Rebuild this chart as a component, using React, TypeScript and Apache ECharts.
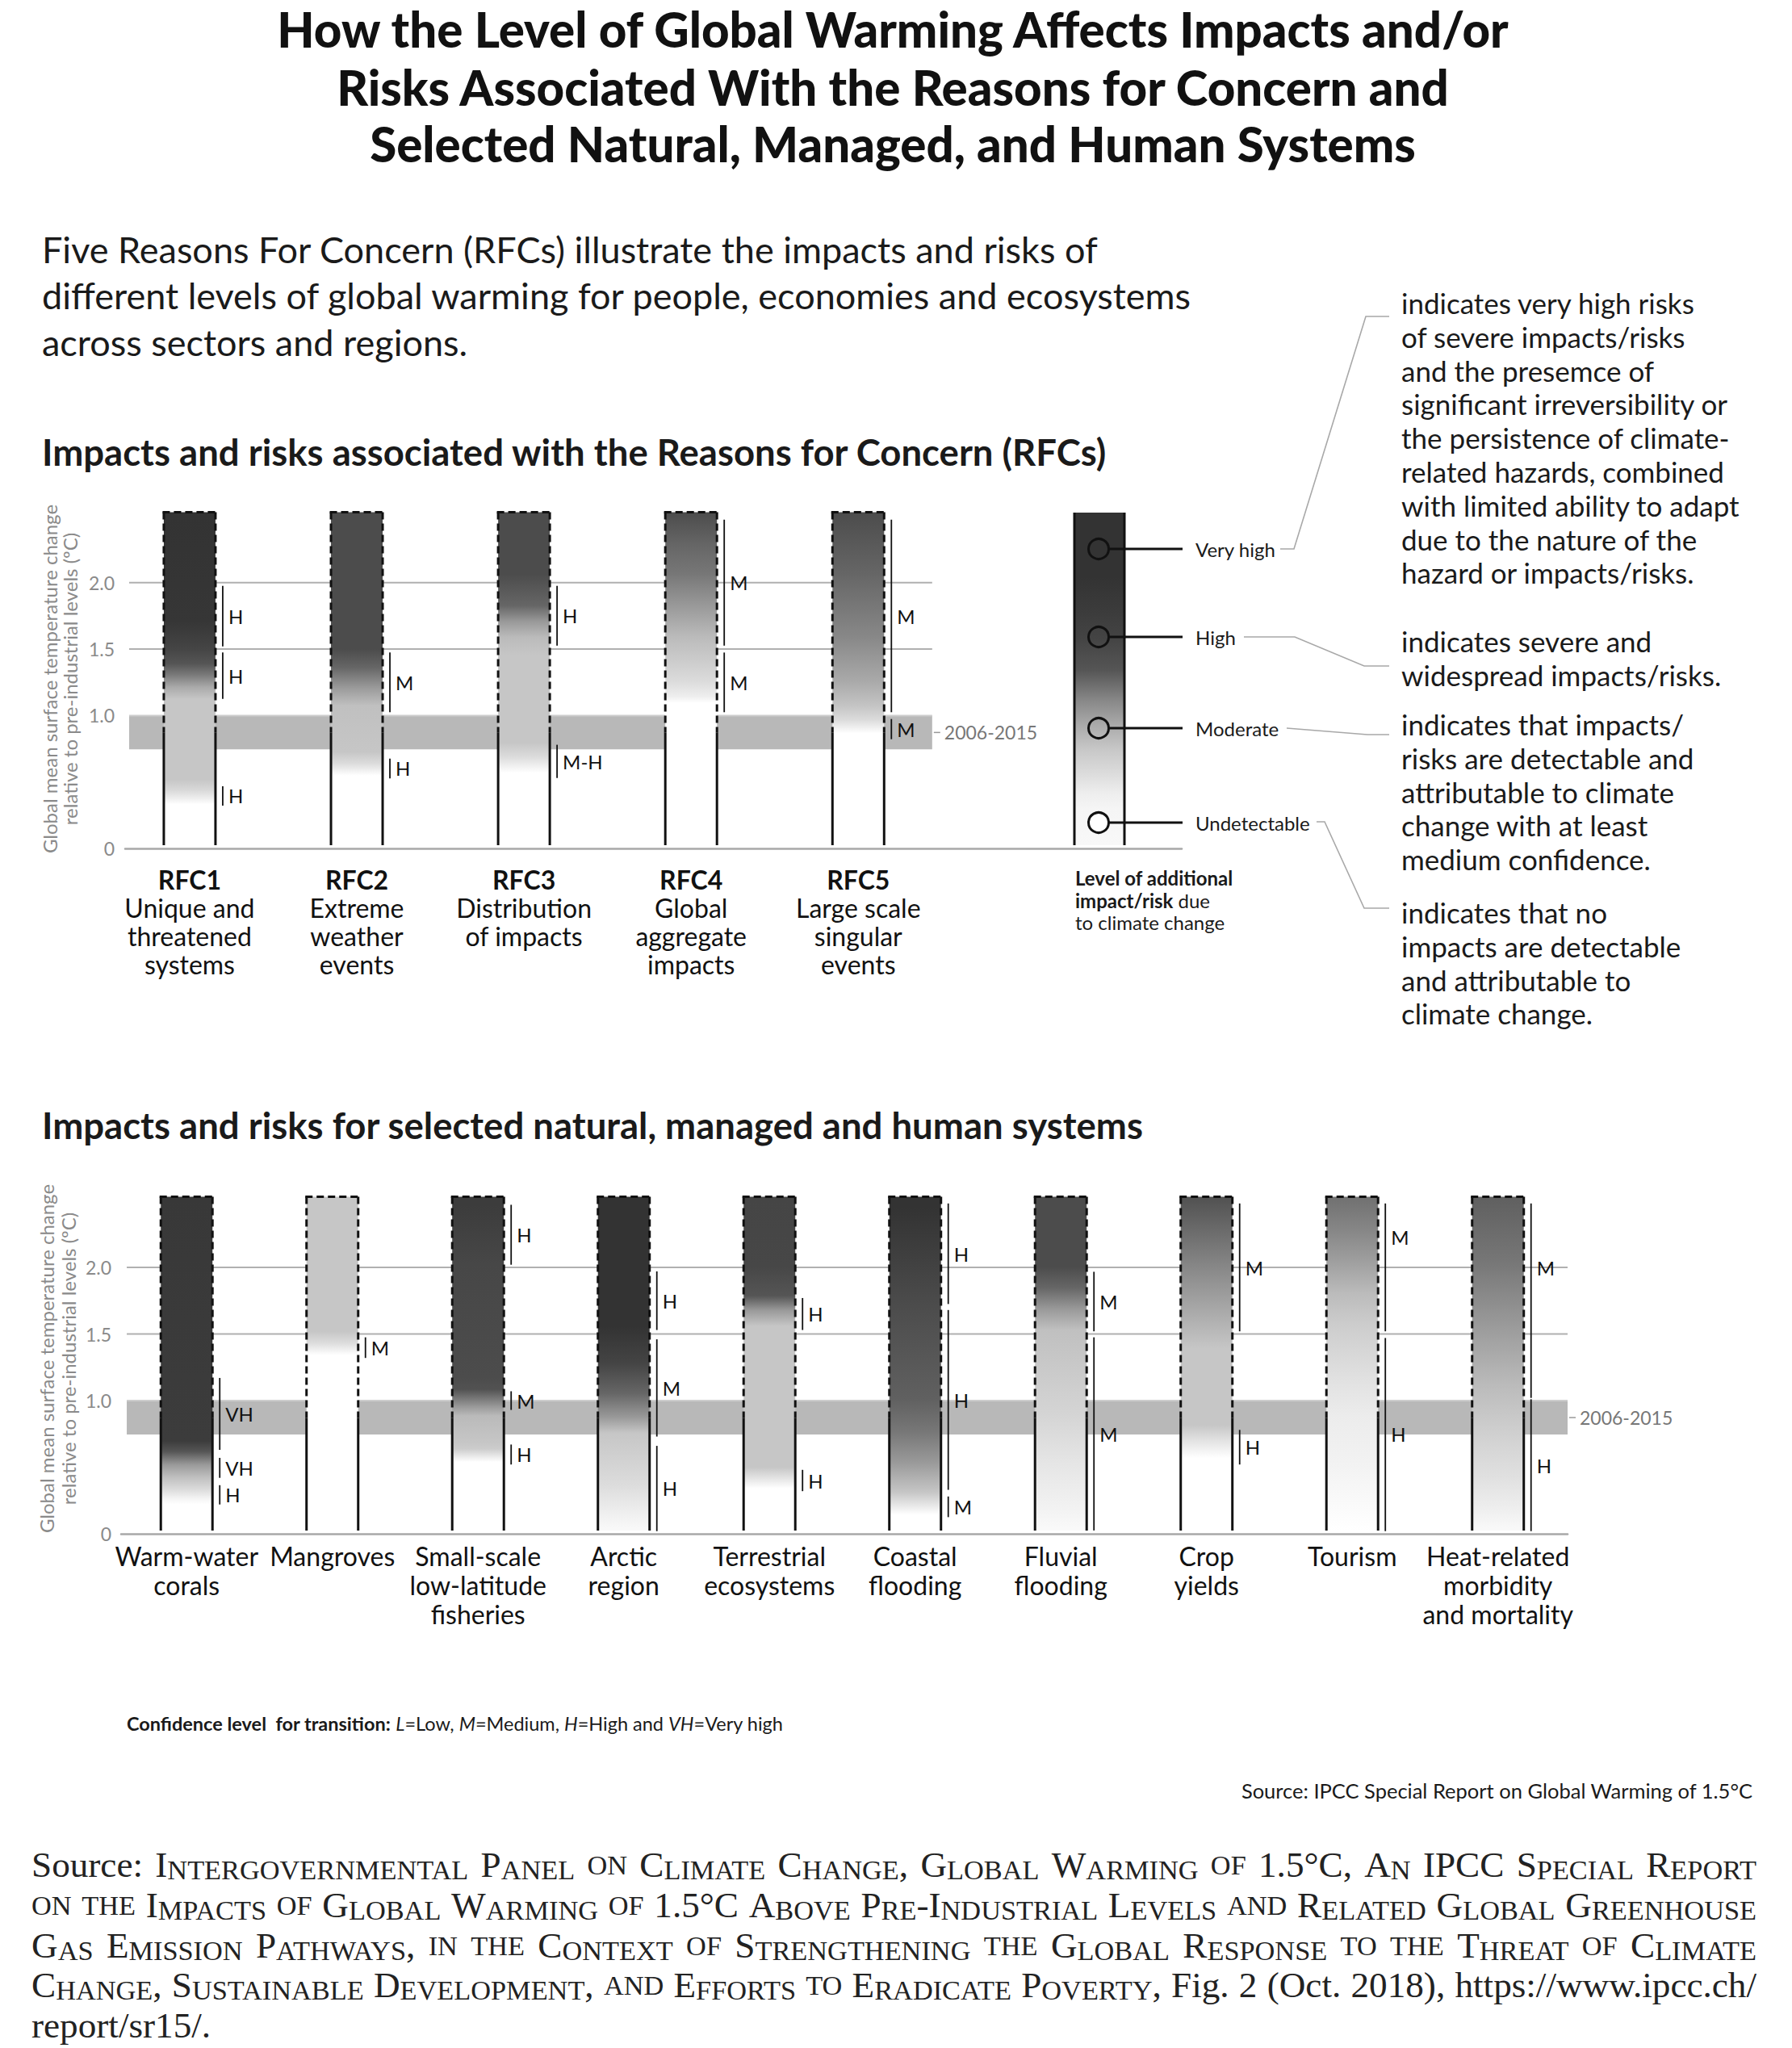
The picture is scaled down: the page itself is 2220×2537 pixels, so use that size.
import React, { useEffect, useRef } from "react";
import * as echarts from "echarts";

const PAGE_W = 2220;
const PAGE_H = 2537;
const SANS = "Lato, 'Noto Sans', sans-serif";
const SERIF = "'Liberation Serif', 'DejaVu Serif', serif";

// ---------------- data ----------------
const titleLines = [
  "How the Level of Global Warming Affects Impacts and/or",
  "Risks Associated With the Reasons for Concern and",
  "Selected Natural, Managed, and Human Systems",
];
const introLines = [
  "Five Reasons For Concern (RFCs) illustrate the impacts and risks of",
  "different levels of global warming for people, economies and ecosystems",
  "across sectors and regions.",
];
const rfcHeading = "Impacts and risks associated with the Reasons for Concern (RFCs)";
const sysHeading = "Impacts and risks for selected natural, managed and human systems";
const yAxisTitle = ["Global mean surface temperature change", "relative to pre-industrial levels (ºC)"];
const yTickValues = [0, 1.0, 1.5, 2.0];
const gridLineValues = [1.0, 1.5, 2.0];
const observedBand = [0.745, 1.0];
const bandLabel = "2006-2015";
const BAR_TOP = 2.53;
const OBSERVED_TOP = 0.87;

// level: 0 = Undetectable, 1 = Moderate, 2 = High, 3 = Very high
const levelGray = [255, 198, 76, 51];

const rfcCodes = ["RFC1", "RFC2", "RFC3", "RFC4", "RFC5"];
const rfcNames = [
  ["Unique and", "threatened", "systems"],
  ["Extreme", "weather", "events"],
  ["Distribution", "of impacts"],
  ["Global", "aggregate", "impacts"],
  ["Large scale", "singular", "events"],
];
// [temperature °C, risk level]
const rfcRisk = [
  [[0.31, 0], [0.35, 0.26], [0.42, 0.68], [0.5, 1], [1.11, 1], [1.2, 1.23], [1.3, 1.65], [1.38, 1.93], [1.49, 2.3], [1.7, 2.9], [2.53, 3]],
  [[0.53, 0], [0.62, 0.61], [0.71, 1], [1.06, 1.05], [1.2, 1.37], [1.35, 1.79], [1.49, 2], [2.53, 2.02]],
  [[0.55, 0], [0.67, 0.61], [0.78, 1], [1.44, 1], [1.58, 1.09], [1.7, 1.37], [1.82, 1.79], [2.06, 2.02], [2.53, 2.02]],
  [[1.08, 0], [1.13, 0.3], [1.24, 0.61], [1.4, 0.89], [1.58, 1.09], [1.82, 1.37], [2.06, 1.65], [2.28, 1.79], [2.53, 2]],
  [[0.85, 0], [0.95, 0.61], [1.06, 1.02], [1.24, 1.23], [1.58, 1.51], [2.06, 1.79], [2.53, 2.02]],
];
// [from °C, to °C, confidence, label position °C (optional)]
const rfcConfidence: any[] = [
  [[1.52, 1.976, "H"], [1.125, 1.474, "H"], [0.322, 0.468, "H"]],
  [[1.025, 1.474, "M"], [0.527, 0.676, "H"]],
  [[1.526, 1.976, "H"], [0.53, 0.78, "M-H"]],
  [[1.526, 2.474, "M"], [1.025, 1.474, "M"]],
  [[1.025, 2.474, "M"], [0.822, 0.974, "M"]],
];

const sysNames = [
  ["Warm-water", "corals"],
  ["Mangroves"],
  ["Small-scale", "low-latitude", "fisheries"],
  ["Arctic", "region"],
  ["Terrestrial", "ecosystems"],
  ["Coastal", "flooding"],
  ["Fluvial", "flooding"],
  ["Crop", "yields"],
  ["Tourism"],
  ["Heat-related", "morbidity", "and mortality"],
];
const sysRisk = [
  [[0.2, 0], [0.24, 0.18], [0.31, 0.61], [0.41, 1.07], [0.5, 1.37], [0.6, 1.93], [0.68, 2.66], [2.52, 2.8]],
  [[1.33, 0], [1.42, 0.6], [1.51, 1], [2.52, 1]],
  [[0.52, 0], [0.62, 0.9], [0.67, 1], [0.87, 1.1], [0.94, 1.37], [1.07, 1.95], [1.16, 2], [2.02, 2.2], [2.47, 2.64]],
  [[0.02, 0.12], [0.12, 0.26], [0.35, 0.61], [0.74, 1], [0.86, 1.37], [1.04, 1.79], [1.27, 2.32], [1.55, 3], [2.52, 3]],
  [[0.32, 0], [0.48, 1], [1.55, 1], [1.67, 1.37], [1.78, 1.93], [2.0, 2.2], [2.52, 2.3]],
  [[0.12, 0], [0.29, 1], [0.52, 1.37], [0.75, 1.65], [1.0, 1.84], [1.7, 2], [2.45, 3]],
  [[0.02, 0.1], [0.17, 0.23], [0.52, 0.46], [0.87, 0.74], [1.33, 1], [1.52, 1.05], [1.68, 1.37], [1.84, 1.79], [2.0, 2], [2.52, 2.02]],
  [[0.55, 0], [0.68, 0.5], [0.8, 1], [1.38, 1], [2.52, 1.95]],
  [[0, 0], [0.52, 0.23], [0.87, 0.33], [1.1, 0.49], [1.33, 0.68], [1.57, 0.9], [1.8, 1.09], [2.03, 1.31], [2.26, 1.51], [2.52, 1.7]],
  [[0.02, 0.12], [0.17, 0.3], [0.41, 0.54], [0.64, 0.74], [0.87, 0.97], [1.1, 1.09], [1.57, 1.37], [2.03, 1.65], [2.52, 1.84]],
];
const sysConfidence: any[] = [
  [[0.63, 1.17, "VH"], [0.42, 0.57, "VH"], [0.22, 0.365, "H"]],
  [[1.32, 1.475, "M"]],
  [[2.02, 2.47, "H"], [0.93, 1.07, "M"], [0.52, 0.67, "H"]],
  [[1.53, 1.97, "H"], [0.73, 1.46, "M"], [0.02, 0.66, "H"]],
  [[1.53, 1.77, "H"], [0.32, 0.48, "H"]],
  [[1.725, 2.48, "H"], [0.33, 1.68, "H"], [0.125, 0.28, "M"]],
  [[1.52, 1.967, "M"], [0.025, 1.475, "M"]],
  [[1.52, 2.48, "M"], [0.52, 0.78, "H"]],
  [[1.52, 2.48, "M", 2.23], [0.02, 1.47, "H", 0.75]],
  [[1.02, 2.48, "M", 2.0], [0.02, 1.01, "H"]],
];

const legendLevels = ["Very high", "High", "Moderate", "Undetectable"];
const legendDescriptions = [
  [
    "indicates very high risks",
    "of severe impacts/risks",
    "and the presemce of",
    "significant irreversibility or",
    "the persistence of climate-",
    "related hazards, combined",
    "with limited ability to adapt",
    "due to the nature of the",
    "hazard or impacts/risks.",
  ],
  ["indicates severe and", "widespread impacts/risks."],
  [
    "indicates that impacts/",
    "risks are detectable and",
    "attributable to climate",
    "change with at least",
    "medium confidence.",
  ],
  ["indicates that no", "impacts are detectable", "and attributable to", "climate change."],
];
const legendCaption = ["Level of additional", "impact/risk", " due", "to climate change"];
const footnoteParts: [string, string][] = [
  ["Confidence level  for transition:", "b"],
  [" ", "n"],
  ["L", "i"],
  ["=Low, ", "n"],
  ["M", "i"],
  ["=Medium, ", "n"],
  ["H", "i"],
  ["=High and ", "n"],
  ["VH", "i"],
  ["=Very high", "n"],
];
const sourceNote = "Source: IPCC Special Report on Global Warming of 1.5°C";
// [text, small caps?]
const sourceLines: [string, boolean][][] = [
  [["Source: ", false], ["Intergovernmental Panel on Climate Change, Global Warming of 1.5°C, An IPCC Special Report", true]],
  [["on the Impacts of Global Warming of 1.5°C Above Pre-Industrial Levels and Related Global Greenhouse", true]],
  [["Gas Emission Pathways, in the Context of Strengthening the Global Response to the Threat of Climate", true]],
  [["Change, Sustainable Development, and Efforts to Eradicate Poverty", true], [", Fig. 2 (Oct. 2018), https://www.ipcc.ch/", false]],
  [["report/sr15/.", false]],
];

// ---------------- helpers ----------------
function levelToGray(l: number) {
  const lo = Math.max(0, Math.min(2, Math.floor(l)));
  const t = Math.min(1, Math.max(0, l - lo));
  const g = Math.round(levelGray[lo] + (levelGray[lo + 1] - levelGray[lo]) * t);
  return `rgb(${g},${g},${g})`;
}

function barGradient(stops: number[][]) {
  const cs: any[] = [];
  cs.push({ offset: 0, color: levelToGray(stops[stops.length - 1][1]) });
  for (let k = stops.length - 1; k >= 0; k--) {
    const off = Math.min(1, Math.max(0, (BAR_TOP - stops[k][0]) / BAR_TOP));
    cs.push({ offset: off, color: levelToGray(stops[k][1]) });
  }
  cs.push({ offset: 1, color: levelToGray(stops[0][1]) });
  return new echarts.graphic.LinearGradient(0, 0, 0, 1, cs);
}

function txt(text: string, x: number, y: number, o: any = {}) {
  const align = o.align || "left";
  const va = o.va || "middle";
  return {
    type: "text",
    x,
    y,
    rotation: o.rotation || 0,
    silent: true,
    style: {
      text,
      fill: o.fill || "#1a1a1a",
      fontSize: o.size || 24,
      fontFamily: o.family || SANS,
      fontWeight: o.weight || "normal",
      fontStyle: o.style || "normal",
      textAlign: align,
      align,
      textVerticalAlign: va,
      verticalAlign: va,
      rich: o.rich,
    },
  };
}

function barRenderer(risk: number[][][], conf: any[], labels: string[], rich: any, labelOffset: number) {
  return (params: any, api: any) => {
    const i = api.value(0);
    const base = api.coord([i, 0]);
    const cx = base[0];
    const y0 = base[1];
    const yTop = api.coord([i, BAR_TOP])[1];
    const ySplit = api.coord([i, OBSERVED_TOP])[1];
    const hw = 32;
    const yEnd = y0 - 4;
    const children: any[] = [];
    children.push({
      type: "rect",
      shape: { x: cx - hw, y: yTop, width: 2 * hw, height: yEnd - yTop },
      style: { fill: barGradient(risk[i]) },
    });
    const solid = { stroke: "#111", lineWidth: 3 };
    const dashed = { stroke: "#111", lineWidth: 3, lineDash: [9, 5] };
    [cx - hw, cx + hw].forEach((x) => {
      children.push({ type: "line", shape: { x1: x, y1: ySplit, x2: x, y2: yEnd }, style: solid });
      children.push({ type: "line", shape: { x1: x, y1: yTop, x2: x, y2: ySplit }, style: dashed });
    });
    children.push({ type: "line", shape: { x1: cx - hw - 1.5, y1: yTop, x2: cx + hw + 1.5, y2: yTop }, style: dashed });
    const lx = cx + hw + 9;
    conf[i].forEach((seg: any[]) => {
      const ya = api.coord([i, seg[0]])[1];
      const yb = api.coord([i, seg[1]])[1];
      children.push({ type: "line", shape: { x1: lx, y1: ya, x2: lx, y2: yb }, style: { stroke: "#111", lineWidth: 1.8 } });
      const at = seg.length > 3 ? seg[3] : (seg[0] + seg[1]) / 2;
      children.push({
        type: "text",
        style: {
          text: seg[2],
          x: lx + 7,
          y: api.coord([i, at])[1],
          fontSize: 24,
          fontFamily: SANS,
          fill: "#111",
          textAlign: "left",
          align: "left",
          textVerticalAlign: "middle",
          verticalAlign: "middle",
        },
      });
    });
    children.push({
      type: "text",
      style: {
        text: labels[i],
        rich,
        x: cx,
        y: y0 + labelOffset,
        textAlign: "center",
        align: "center",
        textVerticalAlign: "top",
        verticalAlign: "top",
      },
    });
    return { type: "group", children };
  };
}

function refRenderer(xStart: number, xEnd: number) {
  return (params: any, api: any) => {
    const pa = api.coord([xStart, observedBand[1]]);
    const pb = api.coord([xEnd, observedBand[0]]);
    const xa = pa[0];
    const xb = pb[0];
    const children: any[] = [
      { type: "rect", shape: { x: xa, y: pa[1], width: xb - xa, height: pb[1] - pa[1] }, style: { fill: "#b8b8b8" } },
    ];
    gridLineValues.forEach((v) => {
      const y = api.coord([xStart, v])[1];
      children.push({
        type: "line",
        shape: { x1: xa, y1: y, x2: xb, y2: y },
        style: { stroke: v === observedBand[1] ? "#cdcdcd" : "#b0b0b0", lineWidth: 2 },
      });
    });
    const ym = (pa[1] + pb[1]) / 2;
    children.push({ type: "line", shape: { x1: xb + 2, y1: ym, x2: xb + 10, y2: ym }, style: { stroke: "#999", lineWidth: 1.5 } });
    children.push({
      type: "text",
      style: {
        text: bandLabel,
        x: xb + 15,
        y: ym,
        fontSize: 23,
        fontFamily: SANS,
        fill: "#777",
        textAlign: "left",
        align: "left",
        textVerticalAlign: "middle",
        verticalAlign: "middle",
      },
    });
    return { type: "group", children };
  };
}

function buildSourceGraphics() {
  const canvas = document.createElement("canvas");
  const ctx = canvas.getContext("2d") as CanvasRenderingContext2D;
  const SC = 0.76;
  const left = 39;
  const width = 2137;
  const ys = [2310, 2360, 2410, 2459, 2509];
  const measure = (t: string, size: number) => {
    ctx.font = `${size}px ${SERIF}`;
    return ctx.measureText(t).width;
  };
  const lines = sourceLines.map((segs) => {
    const chars: { ch: string; sc: boolean }[] = [];
    segs.forEach(([t, sc]) => {
      for (const ch of t) chars.push({ ch, sc });
    });
    const words: { ch: string; sc: boolean }[][] = [];
    let cur: { ch: string; sc: boolean }[] = [];
    chars.forEach((c) => {
      if (c.ch === " ") {
        if (cur.length) words.push(cur);
        cur = [];
      } else cur.push(c);
    });
    if (cur.length) words.push(cur);
    return words.map((w) => {
      const runs: { small: boolean; text: string }[] = [];
      w.forEach((c) => {
        const small = c.sc && c.ch !== c.ch.toUpperCase();
        const t = small ? c.ch.toUpperCase() : c.ch;
        if (runs.length && runs[runs.length - 1].small === small) runs[runs.length - 1].text += t;
        else runs.push({ small, text: t });
      });
      return runs;
    });
  });
  const wordWidth = (runs: any[], F: number) => runs.reduce((s: number, r: any) => s + measure(r.text, r.small ? F * SC : F), 0);
  let maxNat = 0;
  lines.slice(0, 4).forEach((ws) => {
    const nat = ws.reduce((s, w) => s + wordWidth(w, 100), 0) + (ws.length - 1) * measure(" ", 100);
    maxNat = Math.max(maxNat, nat);
  });
  const F = Math.min(46, (100 * width * 0.995) / maxNat);
  const rich = {
    n: { fontSize: F, lineHeight: F, fontFamily: SERIF, verticalAlign: "bottom", fill: "#222" },
    s: { fontSize: F * SC, lineHeight: F * SC, fontFamily: SERIF, verticalAlign: "bottom", fill: "#222" },
  };
  const out: any[] = [];
  lines.forEach((ws, li) => {
    const widths = ws.map((w) => wordWidth(w, F));
    const total = widths.reduce((a, b) => a + b, 0);
    const justify = li < 4 && ws.length > 1;
    const gap = justify ? (width - total) / (ws.length - 1) : measure(" ", F);
    let x = left;
    ws.forEach((w, k) => {
      const text = w.map((r) => `{${r.small ? "s" : "n"}|${r.text}}`).join("");
      out.push(txt(text, x, ys[li], { rich, family: SERIF, size: F }));
      x += widths[k] + gap;
    });
  });
  return out;
}

function buildGraphics() {
  const g: any[] = [];
  // title
  const titleY = [36, 108, 178];
  titleLines.forEach((t, k) => g.push(txt(t, 1106, titleY[k], { align: "center", size: 60, weight: 900, fill: "#111" })));
  // intro
  const introY = [309, 366, 424];
  introLines.forEach((t, k) => g.push(txt(t, 52, introY[k], { size: 45, fill: "#1a1a1a" })));
  // headings
  g.push(txt(rfcHeading, 52, 559, { size: 45.5, weight: "bold", fill: "#1a1a1a" }));
  g.push(txt(sysHeading, 52, 1393, { size: 45.5, weight: "bold", fill: "#1a1a1a" }));
  // y axis titles
  [
    [61, 86, 841],
    [57, 84, 1683],
  ].forEach(([x1, x2, yc]) => {
    g.push(txt(yAxisTitle[0], x1, yc, { align: "center", size: 24, fill: "#8a8a8a", rotation: Math.PI / 2 }));
    g.push(txt(yAxisTitle[1], x2, yc, { align: "center", size: 24, fill: "#8a8a8a", rotation: Math.PI / 2 }));
  });
  // legend bar
  const lbx = 1331;
  const lbTop = 635;
  const lbBot = 1047;
  const shade = [
    [635, 51], [715, 51], [760, 60], [791, 68], [830, 85], [868, 136], [898, 170], [929, 200], [960, 221], [983, 238], [1002, 245], [1047, 248],
  ];
  g.push({
    type: "rect",
    silent: true,
    shape: { x: lbx, y: lbTop, width: 62, height: lbBot - lbTop },
    style: {
      fill: new echarts.graphic.LinearGradient(
        0, 0, 0, 1,
        shade.map(([y, v]) => ({ offset: (y - lbTop) / (lbBot - lbTop), color: `rgb(${v},${v},${v})` }))
      ),
    },
  });
  [lbx, lbx + 62].forEach((x) =>
    g.push({ type: "line", silent: true, shape: { x1: x, y1: lbTop, x2: x, y2: lbBot }, style: { stroke: "#111", lineWidth: 3 } })
  );
  const legY = [680, 789, 902, 1019];
  legendLevels.forEach((lv, k) => {
    g.push({
      type: "circle",
      silent: true,
      shape: { cx: 1361, cy: legY[k], r: 12.5 },
      style: { fill: k === 3 ? "#fff" : "none", stroke: "#111", lineWidth: 3 },
    });
    g.push({ type: "line", silent: true, shape: { x1: 1374, y1: legY[k], x2: 1465, y2: legY[k] }, style: { stroke: "#111", lineWidth: 3 } });
    g.push(txt(lv, 1481, legY[k], { size: 24, fill: "#1a1a1a" }));
  });
  const connectors = [
    [[1586, 680], [1603, 680], [1692, 392], [1721, 392]],
    [[1541, 789], [1604, 789], [1690, 825], [1721, 825]],
    [[1594, 902], [1694, 910], [1721, 910]],
    [[1631, 1018], [1641, 1018], [1690, 1125], [1721, 1125]],
  ];
  connectors.forEach((pts) =>
    g.push({ type: "polyline", silent: true, shape: { points: pts }, style: { stroke: "#a8a8a8", lineWidth: 1.6, fill: "none" } })
  );
  const descY = [375, 794, 897, 1130];
  legendDescriptions.forEach((lines, k) =>
    lines.forEach((t, j) => g.push(txt(t, 1736, descY[k] + j * 41.8, { size: 35, fill: "#1a1a1a" })))
  );
  // legend caption
  const capRich = {
    b: { fontSize: 24, fontFamily: SANS, fontWeight: "bold", fill: "#1a1a1a", lineHeight: 27.5 },
    n: { fontSize: 24, fontFamily: SANS, fill: "#1a1a1a", lineHeight: 27.5 },
  };
  g.push(
    txt(`{b|${legendCaption[0]}}\n{b|${legendCaption[1]}}{n|${legendCaption[2]}}\n{n|${legendCaption[3]}}`, 1332, 1074, {
      rich: capRich,
      va: "top",
    })
  );
  // footnote
  const fRich = {
    b: { fontSize: 23.5, fontFamily: SANS, fontWeight: "bold", fill: "#1a1a1a" },
    n: { fontSize: 23.5, fontFamily: SANS, fill: "#1a1a1a" },
    i: { fontSize: 23.5, fontFamily: SANS, fontStyle: "italic", fill: "#1a1a1a" },
  };
  g.push(txt(footnoteParts.map(([t, s]) => `{${s}|${t}}`).join(""), 157, 2135, { rich: fRich }));
  g.push(txt(sourceNote, 2171, 2218, { align: "right", size: 25.5, fill: "#1a1a1a" }));
  return g.concat(buildSourceGraphics());
}

function buildOption() {
  const yAxisBase = (gridIndex: number, margin: number) => ({
    gridIndex,
    type: "value",
    min: 0,
    max: 2.6,
    interval: 0.5,
    axisLine: { show: false },
    axisTick: { show: false },
    splitLine: { show: false },
    axisLabel: {
      margin,
      color: "#8a8a8a",
      fontSize: 23,
      fontFamily: SANS,
      formatter: (v: number) => {
        const hit = yTickValues.find((t) => Math.abs(t - v) < 1e-6);
        if (hit === undefined) return "";
        return hit === 0 ? "0" : hit.toFixed(1);
      },
    },
  });
  const xAxisBase = (gridIndex: number, min: number, max: number) => ({
    gridIndex,
    type: "value",
    min,
    max,
    axisLine: { show: true, onZero: false, lineStyle: { color: "#a8a8a8", width: 2.5 } },
    axisTick: { show: false },
    axisLabel: { show: false },
    splitLine: { show: false },
  });
  const rfcRich = {
    b: { fontSize: 32, fontFamily: SANS, fontWeight: "bold", fill: "#111", lineHeight: 35 },
    n: { fontSize: 32, fontFamily: SANS, fill: "#111", lineHeight: 35 },
  };
  const rfcLabels = rfcCodes.map((c, i) => [`{b|${c}}`, ...rfcNames[i].map((s) => `{n|${s}}`)].join("\n"));
  const sysLabels = sysNames.map((lines) => lines.map((s) => `{n|${s}}`).join("\n"));
  const sysRich = { n: { fontSize: 32, fontFamily: SANS, fill: "#111", lineHeight: 36 } };

  return {
    animation: false,
    backgroundColor: "#ffffff",
    grid: [
      { left: 155, top: 623, width: 1309, height: 428 },
      { left: 150, top: 1471, width: 1792, height: 429 },
    ],
    xAxis: [xAxisBase(0, -0.386, 5.935), xAxisBase(1, -0.45, 9.478)],
    yAxis: [yAxisBase(0, 13), yAxisBase(1, 12)],
    series: [
      {
        type: "custom",
        xAxisIndex: 0,
        yAxisIndex: 0,
        z: 1,
        silent: true,
        clip: false,
        data: [[0, 0]],
        renderItem: refRenderer(-0.362, 4.442),
      },
      {
        type: "custom",
        xAxisIndex: 0,
        yAxisIndex: 0,
        z: 2,
        silent: true,
        clip: false,
        data: rfcCodes.map((_, i) => [i, 0]),
        renderItem: barRenderer(rfcRisk, rfcConfidence, rfcLabels, rfcRich, 21),
      },
      {
        type: "custom",
        xAxisIndex: 1,
        yAxisIndex: 1,
        z: 1,
        silent: true,
        clip: false,
        data: [[0, 0]],
        renderItem: refRenderer(-0.411, 9.478),
      },
      {
        type: "custom",
        xAxisIndex: 1,
        yAxisIndex: 1,
        z: 2,
        silent: true,
        clip: false,
        data: sysNames.map((_, i) => [i, 0]),
        renderItem: barRenderer(sysRisk, sysConfidence, sysLabels, sysRich, 9),
      },
    ],
    graphic: buildGraphics(),
  };
}

export default function App() {
  const ref = useRef<HTMLDivElement>(null);
  useEffect(() => {
    const chart = echarts.init(ref.current as HTMLDivElement, undefined, { renderer: "svg", width: PAGE_W, height: PAGE_H });
    chart.setOption(buildOption() as any);
    return () => chart.dispose();
  }, []);
  return (
    <div
      ref={ref}
      style={{ position: "absolute", left: 0, top: 0, width: PAGE_W, height: PAGE_H, background: "#fff" }}
    />
  );
}
